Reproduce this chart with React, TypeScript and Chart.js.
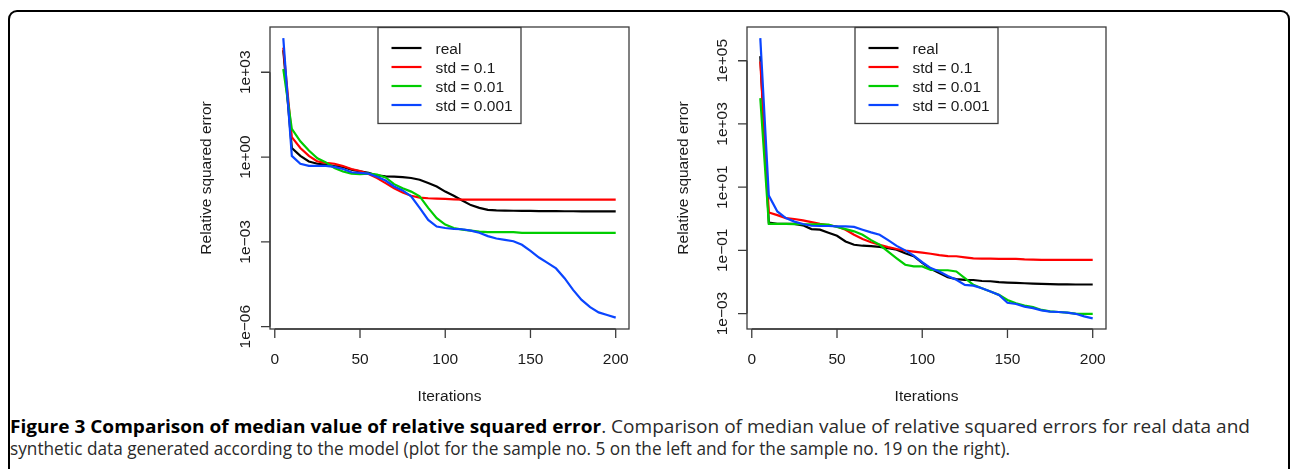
import React, { useEffect, useLayoutEffect, useRef } from "react";
import { Chart, registerables } from "chart.js";

Chart.register(...registerables);

// ---------------- data ----------------
const iterations = [5, 10, 15, 20, 25, 30, 35, 40, 45, 50, 55, 60, 65, 70, 75, 80, 85, 90, 95, 100,
  105, 110, 115, 120, 125, 130, 135, 140, 145, 150, 155, 160, 165, 170, 175, 180, 185, 190, 195, 200];

const seriesLabels = ["real", "std = 0.1", "std = 0.01", "std = 0.001"];
const seriesColors = ["#000000", "#ff0000", "#00cd00", "#0a45ff"];

// sample no. 5 (left)
const s5Real = [6000, 2.1, 1.1, 0.7, 0.58, 0.54, 0.48, 0.45, 0.36, 0.31, 0.275, 0.224, 0.209, 0.204, 0.195, 0.182, 0.158, 0.12, 0.091, 0.060,
  0.043, 0.029, 0.020, 0.016, 0.0135, 0.013, 0.0128, 0.0126, 0.0125, 0.0124, 0.0123, 0.0122, 0.0122, 0.0121, 0.0121, 0.012, 0.012, 0.012, 0.012, 0.012];
const s5Std01 = [7400, 5.1, 2.1, 1.1, 0.7, 0.62, 0.58, 0.48, 0.38, 0.32, 0.25, 0.18, 0.12, 0.079, 0.056, 0.043, 0.037, 0.035, 0.034, 0.033,
  0.032, 0.031, 0.031, 0.031, 0.031, 0.031, 0.031, 0.031, 0.031, 0.031, 0.031, 0.031, 0.031, 0.031, 0.031, 0.031, 0.031, 0.031, 0.031, 0.031];
const s5Std001 = [1300, 10, 3.6, 1.7, 0.9, 0.65, 0.41, 0.31, 0.26, 0.25, 0.26, 0.24, 0.19, 0.11, 0.079, 0.06, 0.041, 0.016, 0.0069, 0.0041,
  0.0031, 0.0027, 0.0025, 0.0023, 0.0022, 0.0022, 0.0022, 0.0022, 0.0021, 0.0021, 0.0021, 0.0021, 0.0021, 0.0021, 0.0021, 0.0021, 0.0021, 0.0021, 0.0021, 0.0021];
const s5Std0001 = [16000, 1.1, 0.58, 0.49, 0.49, 0.49, 0.45, 0.38, 0.29, 0.275, 0.26, 0.2, 0.148, 0.091, 0.066, 0.041, 0.016, 0.006, 0.0035, 0.0031,
  0.0029, 0.0028, 0.0025, 0.0021, 0.0016, 0.00132, 0.00118, 0.00105, 0.00079, 0.00048, 0.00028, 0.00018, 0.000115, 5.2e-5, 2.0e-5, 8.9e-6, 4.9e-6, 3.2e-6, 2.6e-6, 2.1e-6];

// sample no. 19 (right)
const s19Real = [1.4e5, 0.75, 0.69, 0.69, 0.69, 0.62, 0.47, 0.45, 0.36, 0.29, 0.19, 0.15, 0.14, 0.135, 0.129, 0.117, 0.105, 0.081, 0.065, 0.04,
  0.026, 0.019, 0.014, 0.0123, 0.0117, 0.0115, 0.0107, 0.0105, 0.0098, 0.0095, 0.0093, 0.0091, 0.0089, 0.0087, 0.0085, 0.0084, 0.0084, 0.0083, 0.0083, 0.0083];
const s19Std01 = [9.5e4, 1.58, 1.3, 1.05, 0.98, 0.89, 0.78, 0.69, 0.62, 0.57, 0.45, 0.31, 0.23, 0.18, 0.15, 0.126, 0.11, 0.098, 0.091, 0.085,
  0.078, 0.071, 0.066, 0.065, 0.06, 0.056, 0.055, 0.055, 0.054, 0.054, 0.054, 0.052, 0.051, 0.05, 0.05, 0.05, 0.05, 0.05, 0.05, 0.05];
const s19Std001 = [6600, 0.69, 0.69, 0.69, 0.68, 0.67, 0.67, 0.66, 0.65, 0.55, 0.47, 0.4, 0.31, 0.21, 0.15, 0.091, 0.056, 0.035, 0.031, 0.031,
  0.024, 0.0234, 0.0234, 0.0214, 0.0132, 0.0081, 0.0063, 0.005, 0.0039, 0.0027, 0.0021, 0.0018, 0.0016, 0.0013, 0.00117, 0.00112, 0.00107, 0.001, 0.00098, 0.00098];
const s19Std0001 = [5.2e5, 5.4, 1.7, 1.05, 0.81, 0.68, 0.6, 0.59, 0.59, 0.57, 0.57, 0.55, 0.45, 0.37, 0.31, 0.21, 0.138, 0.1, 0.068, 0.042,
  0.0275, 0.0214, 0.0155, 0.0117, 0.0081, 0.0076, 0.0063, 0.005, 0.0039, 0.0022, 0.002, 0.00166, 0.00148, 0.00126, 0.00115, 0.00112, 0.00107, 0.00098, 0.00081, 0.0007];

const xTicks = [0, 50, 100, 150, 200];
const xTickLabels = ["0", "50", "100", "150", "200"];
const leftYTicks = [1e3, 1e0, 1e-3, 1e-6];
const leftYTickLabels = ["1e+03", "1e+00", "1e\u221203", "1e\u221206"];
const rightYTicks = [1e5, 1e3, 1e1, 1e-1, 1e-3];
const rightYTickLabels = ["1e+05", "1e+03", "1e+01", "1e\u221201", "1e\u221203"];

const xTitle = "Iterations";
const yTitle = "Relative squared error";

const captionBold = "Figure 3 Comparison of median value of relative squared error";
const captionRest1 = ". Comparison of median value of relative squared errors for real data and";
const captionLine2 = "synthetic data generated according to the model (plot for the sample no. 5 on the left and for the sample no. 19 on the right).";

// ---------------- R-like axes / legend plugin ----------------
const FONT = "15.5px 'Liberation Sans', Arial, sans-serif";

const rPlot = {
  id: "rPlot",
  afterDraw(chart: any, _args: any, opts: any) {
    const { ctx, chartArea: a, scales } = chart;
    const xs = scales.x;
    const ys = scales.y;
    ctx.save();
    ctx.strokeStyle = "#3c3c3c";
    ctx.lineWidth = 1.3;
    // box
    ctx.strokeRect(a.left, a.top, a.right - a.left, a.bottom - a.top);

    // x axis
    const xt: number[] = opts.xTicks;
    ctx.beginPath();
    ctx.moveTo(xs.getPixelForValue(xt[0]), a.bottom);
    ctx.lineTo(xs.getPixelForValue(xt[xt.length - 1]), a.bottom);
    xt.forEach((t) => {
      const px = xs.getPixelForValue(t);
      ctx.moveTo(px, a.bottom);
      ctx.lineTo(px, a.bottom + 9);
    });
    ctx.stroke();
    ctx.fillStyle = "#1a1a1a";
    ctx.font = FONT;
    ctx.textAlign = "center";
    ctx.textBaseline = "alphabetic";
    xt.forEach((t, i) => {
      ctx.fillText(opts.xLabels[i], xs.getPixelForValue(t), a.bottom + 35);
    });

    // y axis
    const yt: number[] = opts.yTicks;
    ctx.beginPath();
    ctx.moveTo(a.left, ys.getPixelForValue(yt[0]));
    ctx.lineTo(a.left, ys.getPixelForValue(yt[yt.length - 1]));
    yt.forEach((t) => {
      const py = ys.getPixelForValue(t);
      ctx.moveTo(a.left, py);
      ctx.lineTo(a.left - 9, py);
    });
    ctx.stroke();
    yt.forEach((t, i) => {
      const py = ys.getPixelForValue(t);
      ctx.save();
      ctx.translate(a.left - 20.5, py);
      ctx.rotate(-Math.PI / 2);
      ctx.fillText(opts.yLabels[i], 0, 0);
      ctx.restore();
    });

    // titles
    const cx = (a.left + a.right) / 2;
    const cy = (a.top + a.bottom) / 2;
    ctx.fillText(opts.xTitle, cx, a.bottom + 72);
    ctx.save();
    ctx.translate(a.left - 59.5, cy);
    ctx.rotate(-Math.PI / 2);
    ctx.fillText(opts.yTitle, 0, 0);
    ctx.restore();

    // legend
    const w = 143;
    const h = 96;
    const lx = cx - w / 2;
    const ly = a.top + 0.5;
    ctx.fillStyle = "#ffffff";
    ctx.fillRect(lx, ly, w, h);
    ctx.strokeStyle = "#3c3c3c";
    ctx.lineWidth = 1.3;
    ctx.strokeRect(lx, ly, w, h);
    const ds = chart.data.datasets;
    ds.forEach((d: any, i: number) => {
      const ry = ly + 20.5 + 19 * i;
      ctx.strokeStyle = d.borderColor;
      ctx.lineWidth = 2.2;
      ctx.beginPath();
      ctx.moveTo(lx + 13.5, ry);
      ctx.lineTo(lx + 43.5, ry);
      ctx.stroke();
      ctx.fillStyle = "#1a1a1a";
      ctx.textAlign = "left";
      ctx.fillText(d.label, lx + 57.5, ry + 5.6);
    });
    ctx.restore();
  },
};

type PanelProps = {
  left: number;
  series: number[][];
  yMin: number;
  yMax: number;
  yTicks: number[];
  yLabels: string[];
};

function Panel({ left, series, yMin, yMax, yTicks, yLabels }: PanelProps) {
  const ref = useRef<HTMLCanvasElement>(null);
  useEffect(() => {
    if (!ref.current) return;
    const chart = new Chart(ref.current, {
      type: "line",
      data: {
        datasets: series.map((vals, k) => ({
          label: seriesLabels[k],
          data: iterations.map((x, i) => ({ x, y: vals[i] })),
          borderColor: seriesColors[k],
          backgroundColor: seriesColors[k],
          borderWidth: 2.2,
          pointRadius: 0,
          tension: 0,
          fill: false,
          order: series.length - 1 - k,
        })),
      },
      options: {
        animation: false,
        responsive: false,
        devicePixelRatio: 1,
        layout: { padding: { left: 90, right: 11, top: 17, bottom: 81 } },
        plugins: {
          legend: { display: false },
          tooltip: { enabled: false },
          rPlot: { xTicks, xLabels: xTickLabels, yTicks, yLabels, xTitle, yTitle },
        } as any,
        scales: {
          x: { type: "linear", min: -2.8, max: 207.8, display: false },
          y: { type: "logarithmic", min: yMin, max: yMax, display: false, bounds: "data" } as any,
        },
      },
      plugins: [rPlot as any],
    });
    return () => chart.destroy();
  }, []);
  return (
    <canvas
      ref={ref}
      width={460}
      height={400}
      style={{ position: "absolute", left, top: 10, width: 460, height: 400 }}
    />
  );
}

function FitLine({ top, width, children }: { top: number; width: number; children: React.ReactNode }) {
  const ref = useRef<HTMLDivElement>(null);
  useLayoutEffect(() => {
    const el = ref.current;
    if (!el) return;
    el.style.transform = "none";
    const w = el.getBoundingClientRect().width;
    if (w > 0) el.style.transform = `scaleX(${width / w})`;
  }, []);
  return (
    <div
      ref={ref}
      style={{
        position: "absolute",
        left: 10,
        top,
        whiteSpace: "nowrap",
        transformOrigin: "0 0",
        fontFamily: "'Liberation Sans Narrow', 'Open Sans', sans-serif",
        fontSize: 18.5,
        lineHeight: "22px",
        color: "#2a2a2a",
      }}
    >
      {children}
    </div>
  );
}

export default function App() {
  return (
    <div
      style={{
        position: "absolute",
        left: 0,
        top: 0,
        width: 1292,
        height: 469,
        overflow: "hidden",
        background: "#ffffff",
      }}
    >
      <div
        style={{
          position: "absolute",
          left: 8,
          top: 10,
          width: 1282,
          height: 500,
          borderTop: "2px solid #000",
          borderLeft: "2px solid #000",
          borderRight: "2px solid #000",
          borderTopLeftRadius: 9,
          borderTopRightRadius: 9,
          boxSizing: "border-box",
        }}
      />
      <Panel
        left={180}
        series={[s5Real, s5Std01, s5Std001, s5Std0001]}
        yMin={8.3e-7}
        yMax={3.98e4}
        yTicks={leftYTicks}
        yLabels={leftYTickLabels}
      />
      <Panel
        left={657}
        series={[s19Real, s19Std01, s19Std001, s19Std0001]}
        yMin={3.24e-4}
        yMax={1.17e6}
        yTicks={rightYTicks}
        yLabels={rightYTickLabels}
      />
      <FitLine top={415} width={1240}>
        <b style={{ color: "#000" }}>{captionBold}</b>
        {captionRest1}
      </FitLine>
      <FitLine top={437} width={1000}>
        {captionLine2}
      </FitLine>
    </div>
  );
}
